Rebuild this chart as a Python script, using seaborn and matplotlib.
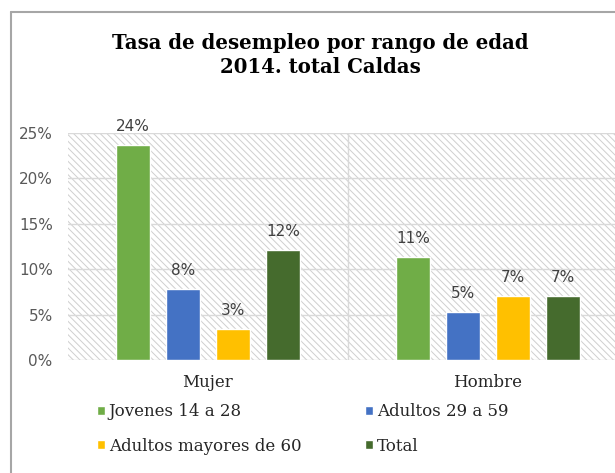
import matplotlib
matplotlib.use("Agg")
import matplotlib.pyplot as plt
import seaborn as sns
import pandas as pd
from matplotlib.patches import Rectangle
from matplotlib.lines import Line2D

categories = ["Mujer", "Hombre"]
groups = ["Jovenes 14 a 28", "Adultos 29 a 59", "Adultos mayores de 60", "Total"]
values_mujer = [0.237, 0.0785, 0.0343, 0.121]
values_hombre = [0.113, 0.053, 0.070, 0.070]
colors = ["#70AD47", "#4472C4", "#FFC000", "#456B2D"]
yticks = [0, 0.05, 0.10, 0.15, 0.20, 0.25]
ytick_labels = ["0%", "5%", "10%", "15%", "20%", "25%"]
title = "Tasa de desempleo por rango de edad\n2014. total Caldas"

rows = []
for cat, vals in zip(categories, [values_mujer, values_hombre]):
    for g, v in zip(groups, vals):
        rows.append({"sexo": cat, "grupo": g, "tasa": v})
df = pd.DataFrame(rows)

sns.set_style("white")
plt.rcParams["hatch.linewidth"] = 0.7
plt.rcParams["hatch.color"] = "#CFCFCF"

fig = plt.figure(figsize=(6.15, 4.73), dpi=100)
ax = fig.add_axes([68 / 615, 113 / 473, 560 / 615, 227 / 473])

# hatched plot-area background
bg = Rectangle((0, 0), 1, 1, transform=ax.transAxes, facecolor="white",
               edgecolor="#CFCFCF", hatch="\\\\\\\\\\", linewidth=0, zorder=0)
ax.add_patch(bg)

sns.barplot(data=df, x="sexo", y="tasa", hue="grupo", palette=colors,
            order=categories, hue_order=groups, width=0.714, gap=0.32,
            saturation=1, ax=ax, zorder=3, legend=True)

for cont in ax.containers:
    labels = [f"{round(r.get_height() * 100):.0f}%" for r in cont]
    ax.bar_label(cont, labels=labels, padding=8, fontsize=11,
                 color="#404040", family="DejaVu Sans")

ax.set_xlim(-0.5, 1.5)
ax.set_ylim(0, 0.25)
ax.set_yticks(yticks)
ax.set_yticklabels(ytick_labels, family="DejaVu Sans", fontsize=11, color="#595959")
ax.tick_params(axis="y", length=0, pad=11)
ax.tick_params(axis="x", length=0, pad=10)
for lbl in ax.get_xticklabels():
    lbl.set_family("DejaVu Serif")
    lbl.set_fontsize(12)
    lbl.set_color("#262626")
ax.set_xlabel("")
ax.set_ylabel("")
for y in yticks:
    ax.axhline(y, color="#D9D9D9", lw=1.0, zorder=1)
ax.axvline(0.5, color="#D9D9D9", lw=1.0, zorder=1)
for s in ax.spines.values():
    s.set_visible(False)

handles, lbls = ax.get_legend_handles_labels()
ax.legend_.remove()
order = [0, 2, 1, 3]
leg = fig.legend([handles[i] for i in order], [lbls[i] for i in order],
                 loc="upper left", bbox_to_anchor=(97 / 615, 1 - 403 / 473),
                 ncol=2, frameon=False, prop={"family": "DejaVu Serif", "size": 12},
                 handlelength=0.45, handleheight=0.45, handletextpad=0.25,
                 columnspacing=3.85, labelspacing=1.05, borderpad=0, borderaxespad=0)
for t in leg.get_texts():
    t.set_color("#262626")

fig.text(320 / 615, 1 - 55 / 473, title, ha="center", va="center",
         family="DejaVu Serif", fontweight="bold", fontsize=14.2, linespacing=1.3,
         color="black")

# chart-area border (left and top)
fig.add_artist(Line2D([11 / 615, 11 / 615], [0, 1 - 12 / 473], transform=fig.transFigure,
                      color="#A6A6A6", lw=1.5))
fig.add_artist(Line2D([11 / 615, 1], [1 - 12 / 473, 1 - 12 / 473], transform=fig.transFigure,
                      color="#A6A6A6", lw=1.5))

fig.savefig("out.png", dpi=100)
